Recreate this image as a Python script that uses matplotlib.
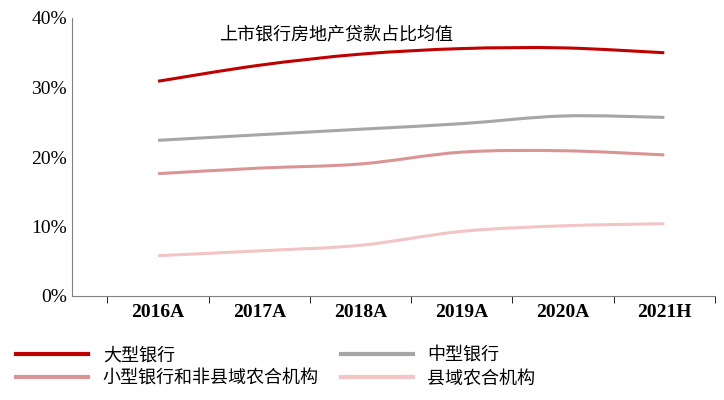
import numpy as np
import matplotlib
matplotlib.use("Agg")
import matplotlib.pyplot as plt
from matplotlib.path import Path
from matplotlib.patches import PathPatch
from matplotlib.lines import Line2D

categories = ["2016A", "2017A", "2018A", "2019A", "2020A", "2021H"]
large = [30.9, 33.2, 34.8, 35.6, 35.7, 35.0]
mid = [22.4, 23.2, 24.0, 24.8, 25.9, 25.7]
small = [17.6, 18.4, 19.0, 20.7, 20.9, 20.3]
county = [5.8, 6.5, 7.3, 9.3, 10.1, 10.4]
names = ["大型银行", "中型银行", "小型银行和非县域农合机构", "县域农合机构"]
colors = ["#C00000", "#A6A6A6", "#D99594", "#F2C4C4"]

cjk = "Noto Sans CJK SC"
serif = "Liberation Serif"


def smooth_path(xs, ys, t=0.5):
    # Catmull-Rom style bezier through the data points
    pts = np.column_stack([xs, ys]).astype(float)
    verts = [pts[0]]
    codes = [Path.MOVETO]
    n = len(pts)
    for i in range(n - 1):
        p0 = pts[max(i - 1, 0)]
        p1 = pts[i]
        p2 = pts[i + 1]
        p3 = pts[min(i + 2, n - 1)]
        c1 = p1 + (p2 - p0) * t / 3
        c2 = p2 - (p3 - p1) * t / 3
        verts += [c1, c2, p2]
        codes += [Path.CURVE4] * 3
    return Path(verts, codes)


fig = plt.figure(figsize=(7.24, 4.0), dpi=100)
ax = fig.add_axes([0.0995, 0.26, 0.888, 0.695])
x = np.arange(len(categories))
for vals, c in zip([large, mid, small, county], colors):
    ax.add_patch(PathPatch(smooth_path(x, vals), fill=False, edgecolor=c, lw=2.2))

ax.set_xlim(-0.85, 5.5)
ax.set_ylim(0, 40)
ax.set_yticks(range(0, 41, 10))
ax.set_yticklabels([f"{v}%" for v in range(0, 41, 10)], fontfamily=serif, fontsize=14)
ax.set_xticks(x)
ax.set_xticklabels(categories, fontfamily=serif, fontsize=14, fontweight="bold")
ax.tick_params(axis="x", length=0, pad=6)
ax.set_xticks(np.arange(-0.5, 5.6, 1), minor=True)
ax.tick_params(axis="x", which="minor", length=5, direction="out")
ax.tick_params(axis="y", length=0)
for s in ["top", "right"]:
    ax.spines[s].set_visible(False)
ax.spines["left"].set_color("#808080")
ax.spines["bottom"].set_color("#808080")
ax.text(0.41, 0.97, "上市银行房地产贷款占比均值", transform=ax.transAxes,
        ha="center", va="top", fontfamily=cjk, fontsize=13)

handles = [Line2D([], [], color=c, lw=3) for c in colors]
order = [0, 2, 1, 3]  # legend fills column-wise
fig.legend([handles[i] for i in order], [names[i] for i in order],
           loc="lower left", bbox_to_anchor=(0.0, -0.01), ncol=2,
           frameon=False, prop={"family": cjk, "size": 13}, columnspacing=1.2,
           handlelength=4.0, labelspacing=0.3)
fig.savefig("out.png", dpi=100)
